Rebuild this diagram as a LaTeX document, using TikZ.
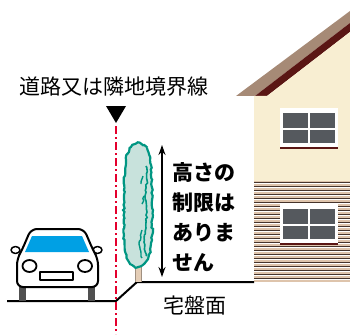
\documentclass[tikz,border=0pt]{standalone}
\usepackage{fontspec}
\setmainfont{Noto Sans CJK JP}
\usetikzlibrary{arrows.meta,decorations.pathmorphing}
\definecolor{roofbrown}{RGB}{166,138,118}
\definecolor{roofdark}{RGB}{90,22,20}
\definecolor{wallcream}{RGB}{248,238,210}
\definecolor{sidingtan}{RGB}{222,196,172}
\definecolor{sidingdark}{RGB}{70,52,44}
\definecolor{panegray}{RGB}{85,89,94}
\definecolor{linered}{RGB}{228,0,45}
\definecolor{treeteal}{RGB}{0,150,130}
\definecolor{treefill}{RGB}{200,226,220}
\definecolor{trunktan}{RGB}{228,205,182}
\definecolor{glassblue}{RGB}{0,160,228}
\definecolor{tiregray}{RGB}{80,80,80}

\begin{document}
\begin{tikzpicture}[x=1pt,y=-1pt,
    label/.style={inner sep=0pt,font=\fontsize{21}{21}\selectfont},
    carline/.style={black,line width=2pt,line join=round},
    rough/.style={decorate,decoration={random steps,segment length=2.5pt,amplitude=0.9pt}}]
        \useasboundingbox (0,0) rectangle (350,334);

        % house
        \fill[roofbrown] (236,96) -- (350,11) -- (350,23) -- (255,96) -- cycle;
        \fill[roofdark] (255,96) -- (350,23) -- (350,32) -- (267,96) -- cycle;
        \fill[wallcream] (254,96) -- (267,96) -- (350,32) -- (350,181) -- (254,181) -- cycle;
        \fill[sidingtan] (254,181) rectangle (350,282);
        \foreach \sy in {182,186,...,281} {
            \draw[sidingdark,line width=0.8pt] (254,\sy) -- (350,\sy);
            \draw[white,line width=0.6pt] (254,\sy+1.6) -- (350,\sy+1.6);
        }
        \foreach \wy in {108,204} {
            \fill[white] (280,\wy) rectangle (338,\wy+40);
            \fill[panegray] (283,\wy+5) rectangle (308,\wy+19.5);
            \fill[panegray] (310,\wy+5) rectangle (335,\wy+19.5);
            \fill[panegray] (283,\wy+22) rectangle (308,\wy+34.5);
            \fill[panegray] (310,\wy+22) rectangle (335,\wy+34.5);
            \draw[roofdark,line width=1.2pt] (280,\wy+40) -- (338,\wy+40);
        }

        % ground
        \draw[line width=2pt] (7,301) -- (116,301) -- (137,282) -- (254,282);

        % car
        \draw[carline,line width=1.5pt,fill=white] (15.5,250) ellipse (4.5pt and 3.5pt);
        \draw[carline,line width=1.5pt,fill=white] (97.5,250) ellipse (4.5pt and 3.5pt);
        \fill[tiregray] (19,286) rectangle (26,301);
        \fill[tiregray] (88,286) rectangle (95,301);
        \draw[carline,fill=white,rounded corners=6pt] (17,287) -- (17,259) -- (22,250)
            -- (31,229) -- (84,229) -- (93,250) -- (98,259) -- (98,287) -- cycle;
        \fill[glassblue] (32,236) -- (82,236) -- (89,252) -- (25,252) -- cycle;
        \draw[carline,line width=1.8pt] (29.5,266) ellipse (7pt and 6pt);
        \draw[carline,line width=1.8pt] (85,266) ellipse (7pt and 6pt);
        \draw[carline,line width=1.2pt] (40,272) rectangle (73,280);

        % tree
        \fill[trunktan] (135.5,262) rectangle (141,282);
        \draw[trunktan!70!black,line width=0.5pt] (135.5,262) -- (135.5,282) (141,262) -- (141,282);
        \draw[treeteal,line width=2.2pt,fill=treefill,rough]
            plot[smooth cycle] coordinates {(138,143) (147,148) (151,165) (152,200)
            (152,240) (148,259) (141,266) (134,266) (127,258) (124,235) (124,195)
            (126,160) (131,147)};
        \draw[treeteal,line width=1.6pt,rough] (146,166) -- (147,180) -- (145,196)
            -- (147,212) -- (146,228) -- (144,242) -- (146,256);
        \draw[treeteal,line width=1.4pt,rough] (142,230) -- (139,244) -- (142,258)
            (144,196) -- (142,204) (143,176) -- (141,184);

        % boundary line
        \fill (106,106) -- (126,106) -- (116,123) -- cycle;
        \node[label] (boundary) at (114,87) {道路又は隣地境界線};
        \draw[linered,line width=2pt,dash pattern=on 8pt off 3pt on 2pt off 3pt] (116,126) -- (116,334);

        % height
        \coordinate (hTop) at (162,145);
        \coordinate (hBot) at (162,277);
        \draw[line width=2pt,{Stealth[length=10pt,width=7pt]}-{Stealth[length=10pt,width=7pt]}] (hTop) -- (hBot);
        \node[label,anchor=west,align=left,font=\bfseries\fontsize{21}{30}\selectfont] (limit) at (172,217)
            {高さの\\制限は\\ありま\\せん};

        \node[label] (lot) at (195,305) {宅盤面};
\end{tikzpicture}
\end{document}
